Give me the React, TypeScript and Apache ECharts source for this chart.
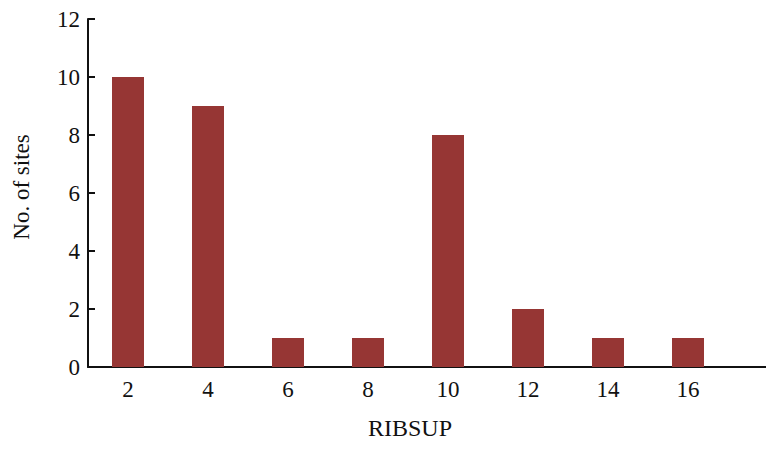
import React, { useEffect, useRef } from "react";
import * as echarts from "echarts";

const categories = ["2", "4", "6", "8", "10", "12", "14", "16", ""];
const sites = [10, 9, 1, 1, 8, 2, 1, 1, null];
const yTicks = { min: 0, max: 12, interval: 2 };

const FONT = "'Liberation Serif', 'Times New Roman', serif";

export default function App() {
  const ref = useRef<HTMLDivElement>(null);
  useEffect(() => {
    if (!ref.current) return;
    const chart = echarts.init(ref.current, null, { renderer: "svg" });
    chart.setOption({
      animation: false,
      textStyle: { fontFamily: FONT },
      grid: { left: 88, top: 19, height: 348, width: 720, outerBoundsMode: "none", containLabel: false },
      xAxis: {
        type: "category",
        data: categories,
        name: "RIBSUP",
        nameLocation: "middle",
        nameGap: 49,
        nameTextStyle: { fontFamily: FONT, fontSize: 24, color: "#111", padding: [0, 76, 0, 0] },
        axisLine: { lineStyle: { color: "#111", width: 2 } },
        axisTick: { show: false },
        axisLabel: { fontFamily: FONT, fontSize: 23, color: "#111", margin: 11 },
      },
      yAxis: {
        type: "value",
        min: yTicks.min,
        max: yTicks.max,
        interval: yTicks.interval,
        name: "No. of sites",
        nameLocation: "middle",
        nameGap: 55,
        nameTextStyle: { fontFamily: FONT, fontSize: 23, color: "#111", padding: [0, 0, 0, 12] },
        axisLine: { show: true, lineStyle: { color: "#111", width: 2 } },
        axisTick: { show: true, inside: true, length: 7, lineStyle: { color: "#111", width: 2 } },
        splitLine: { show: false },
        axisLabel: { fontFamily: FONT, fontSize: 23, color: "#111", margin: 8 },
      },
      series: [
        {
          type: "bar",
          data: sites,
          barWidth: 32,
          itemStyle: { color: "#963634" },
        },
      ],
    });
    return () => chart.dispose();
  }, []);
  return <div ref={ref} style={{ width: 774, height: 449, margin: -8 }} />;
}
